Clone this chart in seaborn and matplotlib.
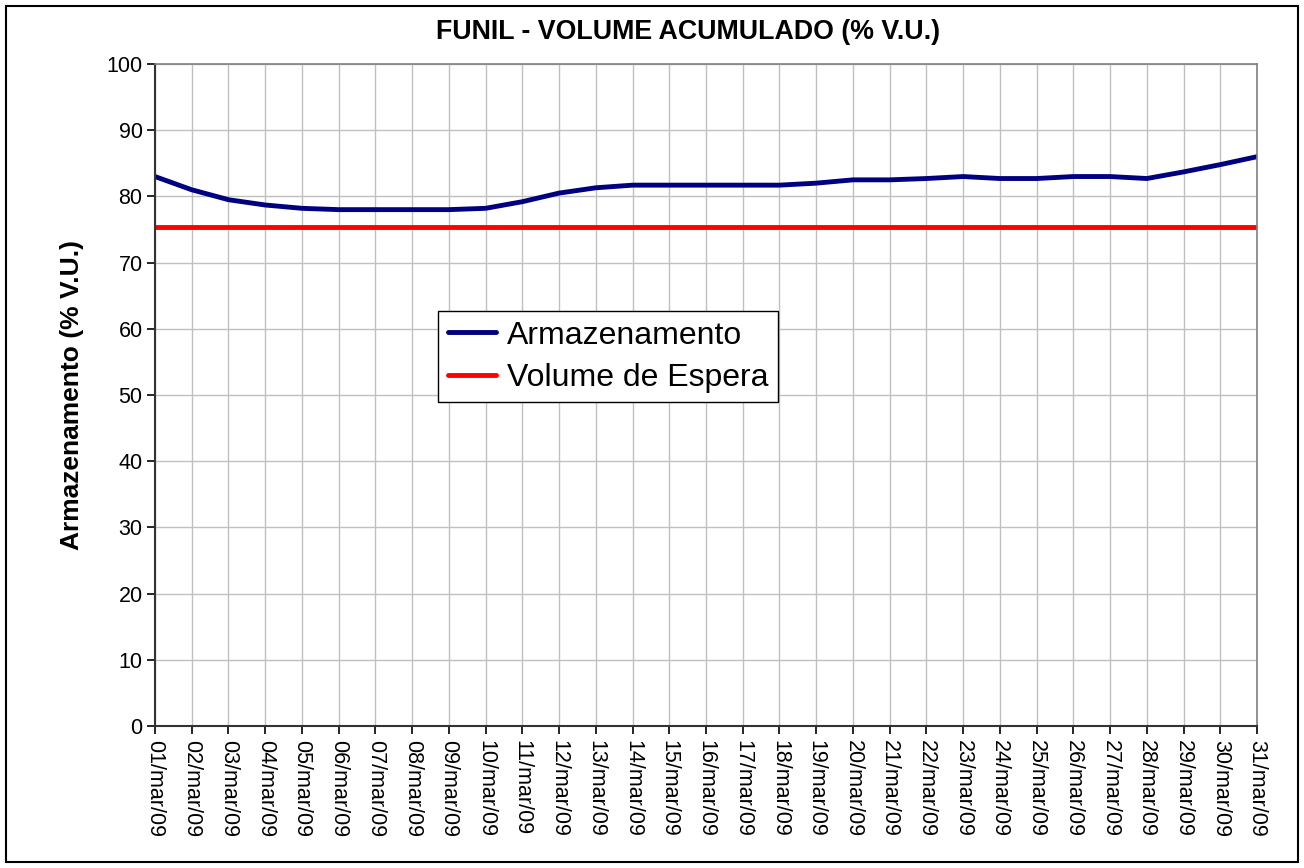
import matplotlib
matplotlib.use("Agg")
import matplotlib.pyplot as plt
import pandas as pd
import seaborn as sns
from matplotlib.patches import Rectangle

days = [f"{d:02d}/mar/09" for d in range(1, 32)]
armazenamento = [83.0, 81.0, 79.5, 78.7, 78.2, 78.0, 78.0, 78.0, 78.0, 78.2,
                 79.2, 80.5, 81.3, 81.7, 81.7, 81.7, 81.7, 81.7, 82.0, 82.5,
                 82.5, 82.7, 83.0, 82.7, 82.7, 83.0, 83.0, 82.7, 83.7, 84.8,
                 86.0]
volume_espera = [75.4] * 31

df = pd.DataFrame({"dia": range(31), "Armazenamento": armazenamento,
                   "Volume de Espera": volume_espera})

sns.set_theme(style="white")
plt.rcParams["font.family"] = ["Liberation Sans", "DejaVu Sans"]
plt.rcParams["text.color"] = "black"
plt.rcParams["xtick.color"] = "black"
plt.rcParams["ytick.color"] = "black"
plt.rcParams["axes.labelcolor"] = "black"

fig = plt.figure(figsize=(13.04, 8.68), dpi=100)
ax = fig.add_axes([155 / 1304, 1 - 726 / 868, (1257 - 155) / 1304, (726 - 64) / 868])

sns.lineplot(data=df, x="dia", y="Armazenamento", color="#000080", linewidth=3.5,
             ax=ax, label="Armazenamento")
sns.lineplot(data=df, x="dia", y="Volume de Espera", color="#ff0000", linewidth=3.5,
             ax=ax, label="Volume de Espera")

ax.set_xlim(0, 30)
ax.set_ylim(0, 100)
ax.set_yticks(range(0, 101, 10))
ax.set_xticks(range(31))
ax.set_xticklabels(days, rotation=270, fontsize=15.5)
ax.tick_params(axis="y", labelsize=15.5, length=6, width=1.2, direction="out", left=True, pad=3)
ax.tick_params(axis="x", length=6, width=1.2, direction="out", bottom=True, pad=4)
ax.grid(True, color="#c0c0c0", linewidth=1)
ax.set_axisbelow(True)
ax.set_xlabel("")
ax.set_ylabel("Armazenamento (% V.U.)", fontsize=19, fontweight="bold", labelpad=16)
fig.text(688 / 1304, 1 - 32 / 868, "FUNIL - VOLUME ACUMULADO (% V.U.)",
         fontsize=19.3, fontweight="bold", ha="center", va="center")

for side in ["top", "right"]:
    ax.spines[side].set_color("#808080")
    ax.spines[side].set_linewidth(1.2)
for side in ["left", "bottom"]:
    ax.spines[side].set_color("#333333")
    ax.spines[side].set_linewidth(1.5)

leg = ax.legend(loc="upper left", bbox_to_anchor=((438 - 155) / 1102, (726 - 311) / 662),
                fontsize=23, frameon=True, fancybox=False, borderpad=0.3,
                handlelength=1.5, handletextpad=0.35, labelspacing=0.38, borderaxespad=0)
leg.get_frame().set_edgecolor("black")
leg.get_frame().set_linewidth(1)
leg.get_frame().set_alpha(1)

fig.patches.append(Rectangle((6 / 1304, 6 / 868), 1 - 12 / 1304, 1 - 12 / 868,
                             transform=fig.transFigure, fill=False,
                             edgecolor="black", linewidth=1.5))

fig.savefig("out.png", dpi=100)
